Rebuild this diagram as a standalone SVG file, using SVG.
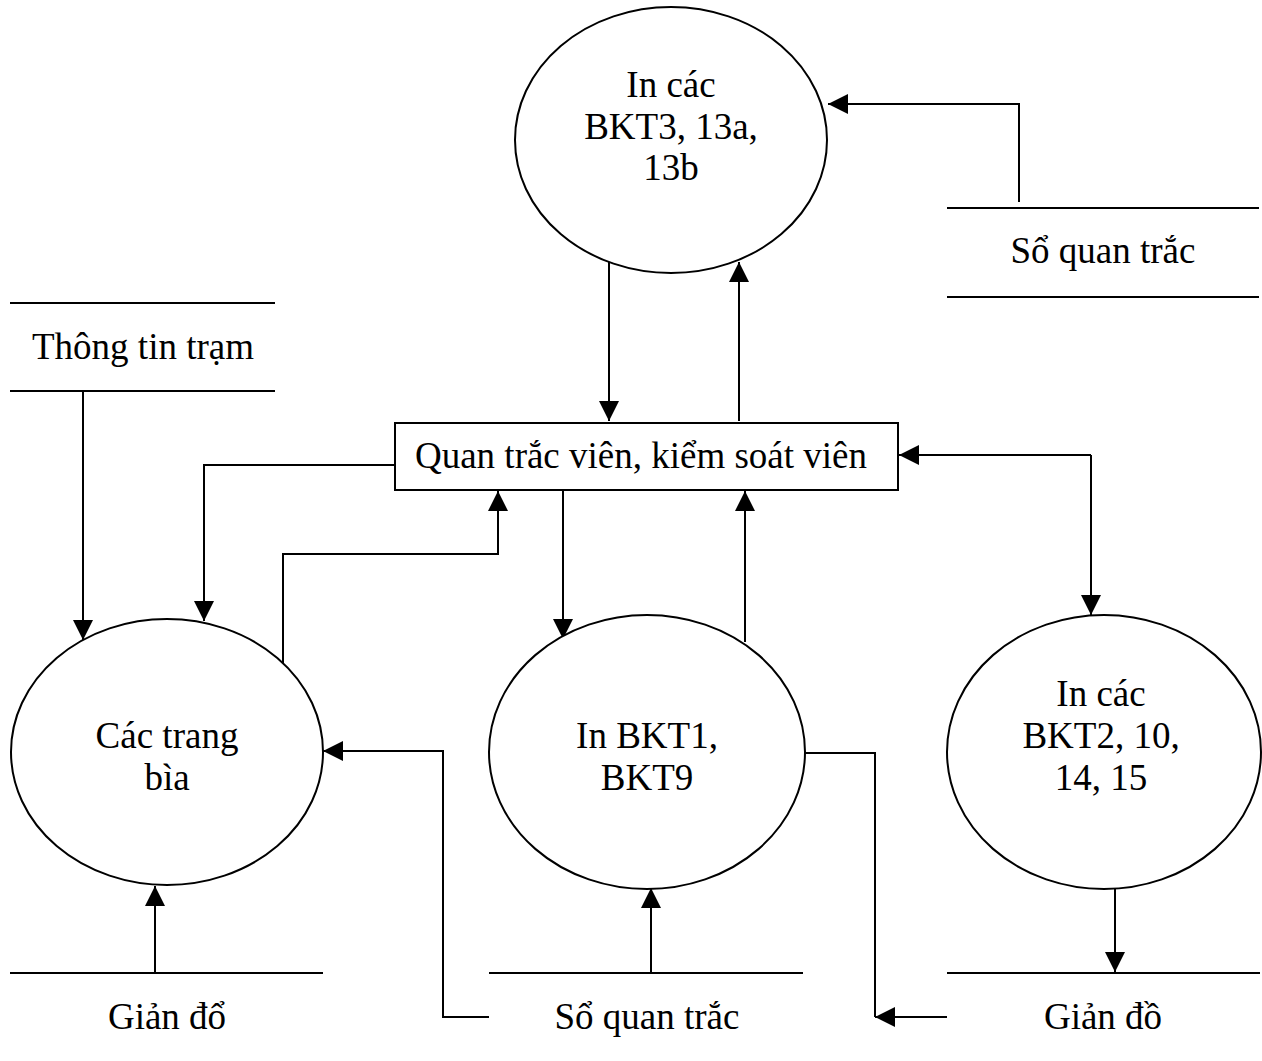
<svg xmlns="http://www.w3.org/2000/svg" width="1262" height="1061" viewBox="0 0 1262 1061">
<style>
  .shape { fill: #fff; stroke: #000; stroke-width: 2; }
  .store { stroke: #000; stroke-width: 2; fill: none; }
  .conn { stroke: #000; stroke-width: 2; fill: none; }
  .arr { marker-end: url(#ah); }
  text { font-family: "Liberation Serif", "Times New Roman", serif; font-size: 37px; fill: #000; text-anchor: middle; }
</style>
<defs>
  <marker id="ah" markerUnits="userSpaceOnUse" markerWidth="20" markerHeight="20" refX="20" refY="10" orient="auto-start-reverse">
    <path d="M0,0 L20,10 L0,20 z" fill="#000"/>
  </marker>
</defs>
<rect width="1262" height="1061" fill="#fff"/>

<g id="connectors">
  <path class="conn arr" d="M609,262 V421"/>
  <path class="conn arr" d="M739,421 V262"/>
  <path class="conn arr" d="M1019,202 V104 H828"/>
  <path class="conn arr" d="M83,391 V640"/>
  <path class="conn arr" d="M395,465 H204 V621"/>
  <path class="conn arr" d="M283,663 V554 H498 V491"/>
  <path class="conn arr" d="M563,490 V639"/>
  <path class="conn arr" d="M745,642 V491"/>
  <path class="conn arr" d="M1091,455 H899"/>
  <path class="conn arr" d="M1091,455 V615"/>
  <path class="conn arr" d="M489,1017 H443 V751 H323"/>
  <path class="conn arr" d="M651,973 V888"/>
  <path class="conn arr" d="M155,973 V886"/>
  <path class="conn arr" d="M1115,888 V972"/>
  <path class="conn" d="M805,753 H875 V1017"/>
  <path class="conn arr" d="M947,1017 H875"/>
</g>

<g id="node-in-bkt3">
  <ellipse class="shape" cx="671" cy="140" rx="156" ry="133"/>
  <text x="671" y="97">In các</text>
  <text x="671" y="139">BKT3, 13a,</text>
  <text x="671" y="180">13b</text>
</g>

<g id="node-quan-trac-vien">
  <rect class="shape" x="395" y="423" width="503" height="67"/>
  <text x="641" y="468">Quan trắc viên, kiểm soát viên</text>
</g>

<g id="node-cac-trang-bia">
  <ellipse class="shape" cx="167" cy="752" rx="156" ry="133"/>
  <text x="167" y="748">Các trang</text>
  <text x="167" y="790">bìa</text>
</g>

<g id="node-in-bkt1">
  <ellipse class="shape" cx="647" cy="752" rx="158" ry="137"/>
  <text x="647" y="748">In BKT1,</text>
  <text x="647" y="790">BKT9</text>
</g>

<g id="node-in-bkt2">
  <ellipse class="shape" cx="1104" cy="752" rx="157" ry="137"/>
  <text x="1101" y="706">In các</text>
  <text x="1101" y="748">BKT2, 10,</text>
  <text x="1101" y="790">14, 15</text>
</g>

<g id="store-so-quan-trac-top">
  <line class="store" x1="947" y1="208" x2="1259" y2="208"/>
  <line class="store" x1="947" y1="297" x2="1259" y2="297"/>
  <text x="1103" y="263">Sổ quan trắc</text>
</g>

<g id="store-thong-tin-tram">
  <line class="store" x1="10" y1="303" x2="275" y2="303"/>
  <line class="store" x1="10" y1="391" x2="275" y2="391"/>
  <text x="143" y="359">Thông tin trạm</text>
</g>

<g id="store-gian-do-left">
  <line class="store" x1="10" y1="973" x2="323" y2="973"/>
  <text x="167" y="1029">Giản đổ</text>
</g>

<g id="store-so-quan-trac-bottom">
  <line class="store" x1="489" y1="973" x2="803" y2="973"/>
  <text x="647" y="1029">Sổ quan trắc</text>
</g>

<g id="store-gian-do-right">
  <line class="store" x1="947" y1="973" x2="1260" y2="973"/>
  <text x="1103" y="1029">Giản đồ</text>
</g>
</svg>
